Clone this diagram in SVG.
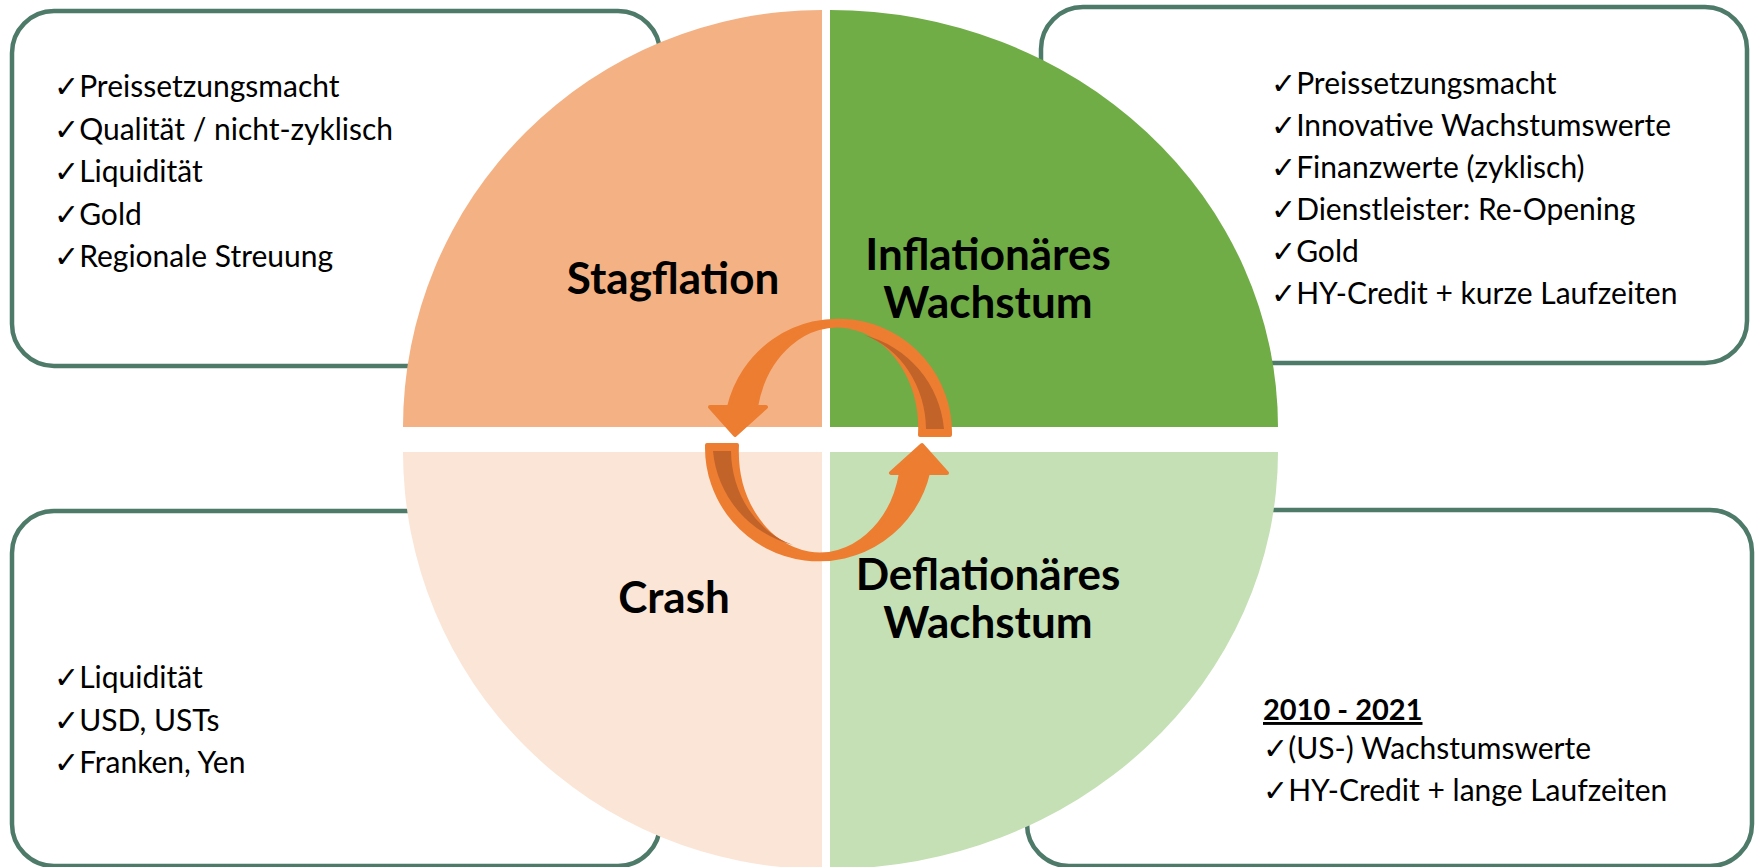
<svg xmlns="http://www.w3.org/2000/svg" xmlns:xlink="http://www.w3.org/1999/xlink" width="1755" height="867" viewBox="0 0 1755 867">
  <style>
    .box { fill: #ffffff; stroke: #4E7A6A; stroke-width: 4.5; }
    .item { font-family: Lato, "Liberation Sans", "DejaVu Sans", sans-serif; font-size: 30px; fill: #000000; }
    .head { font-family: Lato, "Liberation Sans", sans-serif; font-weight: bold; font-size: 44px; fill: #000000; text-anchor: middle; }
    .yr { font-family: Lato, "Liberation Sans", sans-serif; font-weight: bold; font-size: 29px; fill: #000000; text-decoration: underline; }
    .arrowLight { fill: #ED7D31; stroke: #ED7D31; stroke-width: 4; stroke-linejoin: round; }
    .arrowDark { fill: #C2632A; }
  </style>
  <defs>
    <g id="ribbon">
      <path class="arrowLight" d="M 950 435 A 112 112 0 0 0 729 407 L 710 407 L 735 435 L 766 407 L 756 407 A 83 103 0 0 1 920 435 Z"/>
      <path class="arrowDark" d="M 864 335 A 107 107 0 0 1 944 429 L 926 429 A 90 100 0 0 0 864 335 Z"/>
    </g>
  </defs>

  <g id="box-stagflation">
    <rect class="box" x="12" y="11" width="648" height="355" rx="42" ry="42"/>
  </g>
  <g id="box-inflation">
    <rect class="box" x="1041" y="7" width="706" height="356" rx="42" ry="42"/>
  </g>
  <g id="box-crash">
    <rect class="box" x="12" y="511" width="648" height="355" rx="42" ry="42"/>
  </g>
  <g id="box-deflation">
    <rect class="box" x="1027" y="510" width="725" height="356" rx="42" ry="42"/>
  </g>

  <g id="quadrant-stagflation">
    <path d="M 822 427 L 403 427 A 419 417 0 0 1 822 10 Z" fill="#F4B183"/>
    <text class="head" x="673" y="294">Stagflation</text>
  </g>
  <g id="quadrant-inflation">
    <path d="M 830 427 L 830 10 A 448 417 0 0 1 1278 427 Z" fill="#70AD47"/>
    <text class="head" x="988" y="270">Inflationäres</text>
    <text class="head" x="988" y="318">Wachstum</text>
  </g>
  <g id="quadrant-crash">
    <path d="M 822 452 L 822 869 A 419 417 0 0 1 403 452 Z" fill="#FBE5D6"/>
    <text class="head" x="674" y="613">Crash</text>
  </g>
  <g id="quadrant-deflation">
    <path d="M 830 452 L 1278 452 A 448 417 0 0 1 830 869 Z" fill="#C5E0B4"/>
    <text class="head" x="988" y="590">Deflationäres</text>
    <text class="head" x="988" y="638">Wachstum</text>
  </g>

  <g id="connectors">
    <use xlink:href="#ribbon" href="#ribbon"/>
    <use xlink:href="#ribbon" href="#ribbon" transform="rotate(180 828.5 440)"/>
  </g>

  <g id="text-stagflation">
    <text class="item" x="54" y="97">✓Preissetzungsmacht</text>
    <text class="item" x="54" y="139.5">✓Qualität / nicht-zyklisch</text>
    <text class="item" x="54" y="182">✓Liquidität</text>
    <text class="item" x="54" y="224.5">✓Gold</text>
    <text class="item" x="54" y="267">✓Regionale Streuung</text>
  </g>
  <g id="text-inflation">
    <text class="item" x="1271" y="94">✓Preissetzungsmacht</text>
    <text class="item" x="1271" y="136">✓Innovative Wachstumswerte</text>
    <text class="item" x="1271" y="178">✓Finanzwerte (zyklisch)</text>
    <text class="item" x="1271" y="220">✓Dienstleister: Re-Opening</text>
    <text class="item" x="1271" y="262">✓Gold</text>
    <text class="item" x="1271" y="304">✓HY-Credit + kurze Laufzeiten</text>
  </g>
  <g id="text-crash">
    <text class="item" x="54" y="688">✓Liquidität</text>
    <text class="item" x="54" y="731">✓USD, USTs</text>
    <text class="item" x="54" y="773">✓Franken, Yen</text>
  </g>
  <g id="text-deflation">
    <text class="yr" x="1263" y="720">2010 - 2021</text>
    <text class="item" x="1263" y="759">✓(US-) Wachstumswerte</text>
    <text class="item" x="1263" y="801">✓HY-Credit + lange Laufzeiten</text>
  </g>
</svg>
